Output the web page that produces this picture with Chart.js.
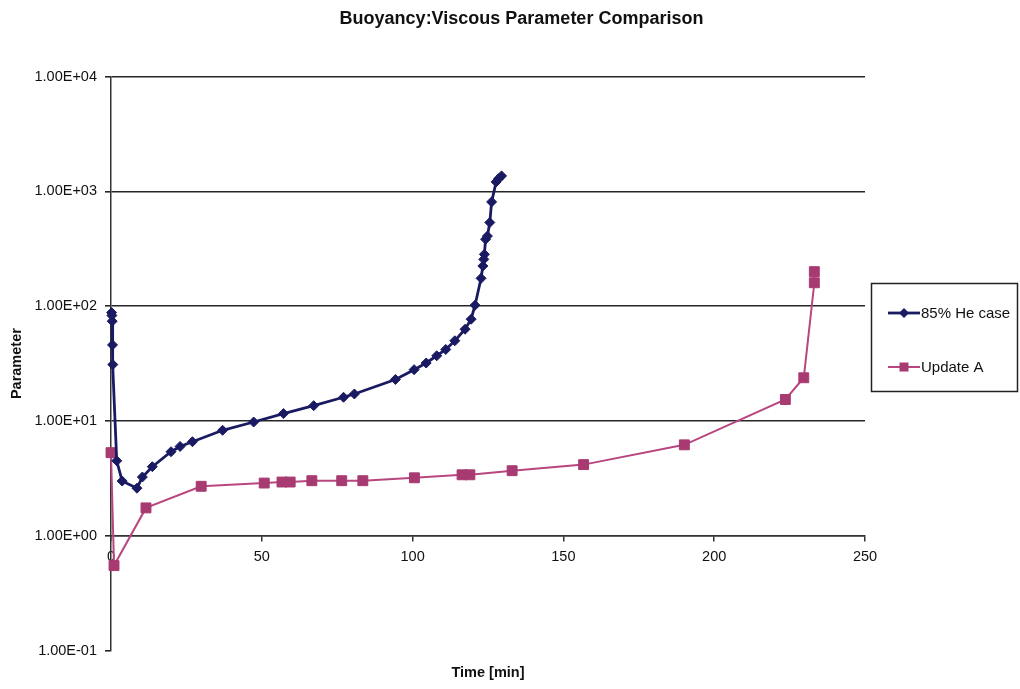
<!DOCTYPE html>
<html>
<head>
<meta charset="utf-8">
<script src="https://cdn.jsdelivr.net/npm/chart.js@4.4.0/dist/chart.umd.min.js"></script>
<style>
  html, body { margin: 0; padding: 0; background: #fff; }
</style>
</head>
<body>
<canvas id="chart" width="1020" height="689"></canvas>
<script>
// 85% He case
const heTime = [0.2, 0.3, 0.4, 0.5, 0.6, 1.9, 3.7, 8.6, 10.4, 13.7, 19.9, 22.9, 27, 37, 47.3, 57.2, 67.2, 77.1, 80.7, 94.3,
  100.5, 104.5, 108, 111, 114, 117.4, 119.4, 120.7, 122.7, 123.3, 123.6, 123.8, 124.2, 124.8, 125.6, 126.2, 127.7, 128.5, 129.5];
const heValue = [88, 83, 74, 46, 31, 4.5, 3.0, 2.6, 3.25, 4.0, 5.4, 6.0, 6.6, 8.3, 9.8, 11.6, 13.6, 16.1, 17.2, 23,
  28, 32, 37, 42, 50, 63, 77, 102, 175, 224, 256, 283, 383, 408, 536, 810, 1210, 1290, 1365];

// Update A
const updTime = [0, 1, 11.6, 29.9, 50.8, 56.7, 59.4, 66.6, 76.5, 83.5, 100.6, 116.4, 119, 133, 156.7, 190.1, 223.6, 229.7, 233.2, 233.2];
const updValue = [5.3, 0.55, 1.75, 2.7, 2.88, 2.94, 2.94, 3.02, 3.02, 3.02, 3.2, 3.4, 3.4, 3.69, 4.17, 6.2, 15.4, 23.8, 160, 200];

const xTicks = [0, 50, 100, 150, 200, 250];
const yTicks = [0.1, 1, 10, 100, 1000, 10000];
const yTickLabels = ['1.00E-01', '1.00E+00', '1.00E+01', '1.00E+02', '1.00E+03', '1.00E+04'];

const seriesNames = ['85% He case', 'Update A'];

Chart.defaults.font.family = '"Liberation Sans", Arial, sans-serif';
Chart.defaults.color = '#111';

function toPoints(xs, ys) {
  return xs.map((x, i) => ({ x: x, y: ys[i] }));
}

// legend drawn as a framed box to the right of the plot
const boxLegend = {
  id: 'boxLegend',
  afterDraw(chart) {
    const ctx = chart.ctx;
    const left = chart.chartArea.right + 6;
    ctx.save();
    ctx.strokeStyle = '#222';
    ctx.lineWidth = 1.5;
    ctx.strokeRect(left + 0.5, 283.5, 146, 108);
    chart.data.datasets.forEach((ds, i) => {
      const y = 313 + i * 54;
      ctx.strokeStyle = ds.borderColor;
      ctx.lineWidth = ds.borderWidth;
      ctx.beginPath();
      ctx.moveTo(left + 17, y);
      ctx.lineTo(left + 49, y);
      ctx.stroke();
      const cx = left + 33;
      ctx.fillStyle = ds.pointBackgroundColor;
      ctx.beginPath();
      if (ds.pointStyle === 'rectRot') {
        const r = 5;
        ctx.moveTo(cx - r, y); ctx.lineTo(cx, y - r); ctx.lineTo(cx + r, y); ctx.lineTo(cx, y + r);
        ctx.closePath();
      } else {
        ctx.rect(cx - 4.5, y - 4.5, 9, 9);
      }
      ctx.fill();
      ctx.fillStyle = '#111';
      ctx.font = '15px "Liberation Sans", Arial, sans-serif';
      ctx.textBaseline = 'middle';
      ctx.fillText(ds.label, left + 50, y + 1);
    });
    ctx.restore();
  }
};

new Chart(document.getElementById('chart').getContext('2d'), {
  type: 'line',
  data: {
    datasets: [
      {
        label: seriesNames[0],
        data: toPoints(heTime, heValue),
        borderColor: '#1a1a62',
        backgroundColor: '#1a1a62',
        pointBackgroundColor: '#1a1a62',
        pointBorderColor: '#1a1a62',
        borderWidth: 2.8,
        pointStyle: 'rectRot',
        pointRadius: 5,
        pointBorderWidth: 1,
        tension: 0,
        clip: false
      },
      {
        label: seriesNames[1],
        data: toPoints(updTime, updValue),
        borderColor: '#b8467f',
        backgroundColor: '#a83a72',
        pointBackgroundColor: '#a83a72',
        pointBorderColor: '#a83a72',
        borderWidth: 2,
        pointStyle: 'rect',
        pointRadius: 7,
        pointBorderWidth: 1,
        tension: 0,
        clip: false
      }
    ]
  },
  options: {
    responsive: false,
    animation: false,
    events: [],
    layout: { padding: { left: 23, right: 0, top: 0, bottom: 0 } },
    scales: {
      x: {
        type: 'linear',
        axis: 'x',
        position: { y: 1 },
        min: 0,
        max: 250,
        afterBuildTicks: (scale) => { scale.ticks = xTicks.map(v => ({ value: v })); },
        afterFit: (scale) => { scale.height = 0; scale.paddingRight = 155; },
        ticks: {
          color: '#111',
          font: { size: 14.5 },
          padding: 7,
          maxRotation: 0,
          autoSkip: false
        },
        grid: {
          drawOnChartArea: false,
          drawTicks: true,
          tickLength: 5,
          color: '#333',
          lineWidth: 1.5
        },
        border: { display: true, color: '#333', width: 1.5 }
      },
      y: {
        type: 'logarithmic',
        position: 'left',
        min: 0.1,
        max: 10000,
        afterBuildTicks: (scale) => { scale.ticks = yTicks.map(v => ({ value: v })); },
        afterFit: (scale) => { scale.width = 88; },
        ticks: {
          color: '#111',
          font: { size: 14.5 },
          padding: 8,
          callback: (value) => yTickLabels[yTicks.indexOf(value)]
        },
        grid: {
          color: (ctx) => (ctx.tick && ctx.tick.value === 0.1) ? 'rgba(0,0,0,0)' : '#262626',
          tickColor: '#262626',
          lineWidth: 1.6,
          tickLength: 6
        },
        border: { display: true, color: '#333', width: 1.5 },
        title: {
          display: true,
          text: 'Parameter',
          color: '#111',
          font: { size: 14.5, weight: 'bold' },
          padding: { top: -14.7, bottom: 0 }
        }
      }
    },
    plugins: {
      legend: { display: false },
      tooltip: { enabled: false },
      title: {
        display: true,
        text: 'Buoyancy:Viscous Parameter Comparison',
        color: '#111',
        font: { size: 18, weight: 'bold' },
        padding: { top: 8, bottom: 47 }
      },
      subtitle: {
        display: true,
        position: 'bottom',
        fullSize: false,
        text: 'Time [min]',
        color: '#111',
        font: { size: 14.5, weight: 'bold' },
        padding: { top: 14, bottom: 7 }
      }
    }
  },
  plugins: [boxLegend]
});
</script>
</body>
</html>
